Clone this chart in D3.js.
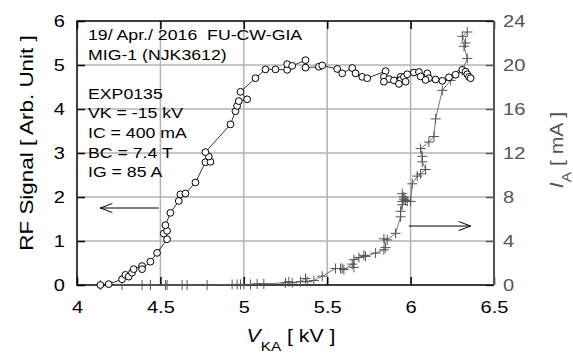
<!DOCTYPE html>
<html>
<head>
<meta charset="utf-8">
<script src="https://cdn.jsdelivr.net/npm/d3@7"></script>
<style>
  body { margin: 0; background: #fff; }
  svg { font-family: "Liberation Sans", Arial, sans-serif; }
</style>
</head>
<body>
<div id="display"></div>
<script>
// RF signal points [V_KA (kV), RF (arb.)]
const rfVka = [4.14, 4.19, 4.27, 4.29, 4.31, 4.33, 4.34, 4.39, 4.39, 4.44, 4.48, 4.54, 4.52, 4.54, 4.53, 4.56,
  4.61, 4.62, 4.65, 4.71, 4.77, 4.80, 4.79, 4.77, 4.92, 4.95, 4.96, 4.97, 5.02, 4.98, 5.07, 5.13, 5.19,
  5.26, 5.26, 5.29, 5.37, 5.37, 5.45, 5.47, 5.56, 5.59, 5.65, 5.67, 5.71, 5.74, 5.85, 5.84, 5.87, 5.90,
  5.84, 5.94, 5.94, 5.93, 5.96, 5.97, 5.98, 6.02, 6.05, 6.06, 6.10, 6.11, 6.09, 6.15, 6.19, 6.23, 6.27,
  6.31, 6.33, 6.34, 6.35, 6.36]
const rfVal = [0.0, 0.02, 0.13, 0.23, 0.19, 0.28, 0.36, 0.43, 0.36, 0.53, 0.73, 1.04, 1.17, 1.23, 1.36, 1.64,
  1.91, 2.06, 2.08, 2.33, 2.79, 2.80, 2.92, 3.02, 3.65, 3.95, 4.07, 4.18, 4.22, 4.39, 4.70, 4.90, 4.90,
  4.89, 5.02, 4.98, 5.11, 4.94, 4.96, 4.99, 4.91, 4.81, 4.93, 4.81, 4.73, 4.70, 4.86, 4.73, 4.68, 4.65,
  4.62, 4.73, 4.66, 4.57, 4.73, 4.62, 4.79, 4.83, 4.84, 4.74, 4.81, 4.70, 4.66, 4.67, 4.64, 4.72, 4.78,
  4.89, 4.85, 4.79, 4.73, 4.70]

// Anode current points [V_KA (kV), I_A (mA)]
const iaVka = [4.14, 4.27, 4.39, 4.44, 4.53, 4.54, 4.63, 4.66, 4.78, 4.93, 4.96, 4.98, 5.00, 5.04, 5.08, 5.12,
  5.25, 5.27, 5.29, 5.34, 5.37, 5.38, 5.42, 5.47, 5.55, 5.58, 5.59, 5.60, 5.65, 5.66, 5.66, 5.69, 5.72,
  5.73, 5.79, 5.84, 5.85, 5.84, 5.86, 5.91, 5.94, 5.94, 5.95, 5.96, 5.97, 5.98, 5.95, 5.95, 5.96, 6.00,
  6.01, 6.04, 6.06, 6.09, 6.07, 6.07, 6.06, 6.11, 6.14, 6.15, 6.19, 6.24, 6.31, 6.34, 6.32, 6.33, 6.31, 6.34]
const iaVal = [0, 0, 0, 0, 0, 0, 0, 0, 0, 0.05, 0.05, 0.05, 0.05, 0.05, 0.1, 0.1,
  0.2, 0.3, 0.2, 0.3, 0.6, 0.3, 0.4, 0.8, 1.5, 1.5, 1.5, 1.4, 1.9, 1.6, 2.3, 2.5, 2.7,
  2.6, 2.9, 3.2, 3.4, 4.2, 4.1, 4.7, 6.2, 6.7, 7.3, 7.8, 7.7, 7.6, 7.6, 8.3, 8.0, 7.6,
  9.2, 9.9, 10.1, 10.5, 11.2, 11.7, 12.4, 13.0, 13.5, 15.1, 17.7, 18.6, 19.5, 20.6, 21.7, 22.0, 22.6, 23.0]

const xTicks = [4, 4.5, 5, 5.5, 6, 6.5]
const yTicks = [0, 1, 2, 3, 4, 5, 6]
const y2Ticks = [0, 4, 8, 12, 16, 20, 24]
const notes = ["19/ Apr./ 2016  FU-CW-GIA", "MIG-1 (NJK3612)", "", "EXP0135", "VK = -15 kV", "IC = 400 mA", "BC = 7.4 T", "IG = 85 A"]

function chart(parentNode)
{
  let width = 573
  let height = 353
  let margin = {top: 21, right: 79, bottom: 68, left: 77}
  let x = d3.scaleLinear([4, 6.5], [margin.left, width - margin.right])
  let y = d3.scaleLinear([0, 6], [height - margin.bottom, margin.top])
  let y2 = d3.scaleLinear([0, 24], [height - margin.bottom, margin.top])
  const gray = "#555"
  const wide = 1.18 // the original lettering is a bit wider than Liberation Sans

  const svg = d3.create("svg")
      .attr("width", width)
      .attr("height", height)
      .attr("viewBox", [0, 0, width, height])
  parentNode.appendChild(svg.node())

  // widen plain texts in place
  const stretch = sel => sel.each(function() {
    const L = this.getComputedTextLength()
    if (L > 0) d3.select(this).attr("textLength", L * wide).attr("lengthAdjust", "spacingAndGlyphs")
  })

  // grid
  svg.append("g")
      .attr("stroke", "#b3b3b3")
      .attr("stroke-width", 1.5)
    .call(g => g.selectAll("line.v").data(xTicks.slice(1, -1)).join("line")
      .attr("x1", d => x(d)).attr("x2", d => x(d))
      .attr("y1", y(0)).attr("y2", y(6)))
    .call(g => g.selectAll("line.h").data(yTicks.slice(1, -1)).join("line")
      .attr("y1", d => y(d)).attr("y2", d => y(d))
      .attr("x1", x(4)).attr("x2", x(6.5)))

  const tickStyle = g => {
    g.select(".domain").remove()
    g.selectAll(".tick text").attr("font-size", 17).attr("font-family", "Liberation Sans, Arial, sans-serif")
  }

  // bottom axis, inward ticks
  svg.append("g")
      .attr("transform", `translate(0,${y(0)})`)
      .call(d3.axisBottom(x).tickValues(xTicks).tickFormat(d3.format("")).tickSizeInner(-8).tickSizeOuter(0).tickPadding(16))
      .call(tickStyle)
      .call(g => g.selectAll(".tick line").attr("stroke", "#000").attr("stroke-width", 1.5))
      .call(g => g.selectAll(".tick text").attr("fill", "#000"))
  // top ticks
  svg.append("g")
      .attr("transform", `translate(0,${y(6)})`)
      .call(d3.axisTop(x).tickValues(xTicks).tickFormat("").tickSizeInner(-8).tickSizeOuter(0))
      .call(tickStyle)
      .call(g => g.selectAll(".tick line").attr("stroke", "#000").attr("stroke-width", 1.5))

  // left axis
  svg.append("g")
      .attr("transform", `translate(${x(4)},0)`)
      .call(d3.axisLeft(y).tickValues(yTicks).tickFormat(d3.format("d")).tickSizeInner(-8).tickSizeOuter(0).tickPadding(12))
      .call(tickStyle)
      .call(g => g.selectAll(".tick line").attr("stroke", "#000").attr("stroke-width", 1.5))
      .call(g => g.selectAll(".tick text").attr("fill", "#000"))

  // right axis
  svg.append("g")
      .attr("transform", `translate(${x(6.5)},0)`)
      .call(d3.axisRight(y2).tickValues(y2Ticks).tickSizeInner(-8).tickSizeOuter(0).tickPadding(9))
      .call(tickStyle)
      .call(g => g.selectAll(".tick line").attr("stroke", gray).attr("stroke-width", 1.5))
      .call(g => g.selectAll(".tick text").attr("fill", gray))

  // frame
  svg.append("path")
      .attr("fill", "none").attr("stroke", "#000").attr("stroke-width", 1.5)
      .attr("d", `M${x(6.5)},${y(6)}H${x(4)}V${y(0)}H${x(6.5)}`)
  svg.append("line")
      .attr("stroke", gray).attr("stroke-width", 2)
      .attr("x1", x(6.5)).attr("x2", x(6.5)).attr("y1", y(0)).attr("y2", y(6))

  // I_A series
  const ia = iaVka.map((v, i) => [v, iaVal[i]])
  svg.append("path")
      .datum(ia)
      .attr("fill", "none").attr("stroke", "#666").attr("stroke-width", 0.9)
      .attr("d", d3.line(d => x(d[0]), d => y2(d[1])))
  svg.append("g")
      .attr("stroke", "#555").attr("stroke-width", 1)
    .selectAll("path")
    .data(ia)
    .join("path")
      .attr("d", d => `M${x(d[0]) - 5},${y2(d[1])}h10M${x(d[0])},${y2(d[1]) - 5}v10`)

  // RF series
  const rf = rfVka.map((v, i) => [v, rfVal[i]])
  svg.append("path")
      .datum(rf)
      .attr("fill", "none").attr("stroke", "#000").attr("stroke-width", 0.8)
      .attr("d", d3.line(d => x(d[0]), d => y(d[1])))
  svg.append("g")
      .attr("fill", "#fff").attr("stroke", "#000").attr("stroke-width", 1)
    .selectAll("circle")
    .data(rf)
    .join("circle")
      .attr("cx", d => x(d[0]))
      .attr("cy", d => y(d[1]))
      .attr("r", 3.4)

  // notes
  svg.append("g")
      .attr("font-size", 15)
      .attr("class", "notes")
    .selectAll("text")
    .data(notes)
    .join("text")
      .attr("x", x(4) + 11)
      .attr("y", (d, i) => 40 + i * 19.6)
      .style("white-space", "pre")
      .text(d => d)

  // arrows
  const arrow = (x0, x1, yy, color) => {
    const dir = Math.sign(x1 - x0)
    svg.append("path")
        .attr("fill", "none").attr("stroke", color).attr("stroke-width", 1)
        .attr("d", `M${x0},${yy}H${x1}M${x1 - dir * 12},${yy - 4.5}L${x1},${yy}L${x1 - dir * 12},${yy + 4.5}`)
  }
  arrow(x(4.49), x(4.14), y(1.75), "#000")
  arrow(x(5.99), x(6.36), y2(5.36), "#000")

  svg.selectAll(".tick text, .notes text").call(stretch)

  // axis titles
  svg.append("text")
      .attr("transform", `translate(33,143) rotate(-90) scale(${wide},1)`)
      .attr("text-anchor", "middle")
      .attr("font-size", 19)
      .text("RF Signal [ Arb. Unit ]")

  const xt = svg.append("text")
      .attr("transform", `translate(291,342) scale(${wide},1)`)
      .attr("text-anchor", "middle")
      .attr("font-size", 18)
  xt.append("tspan").attr("font-style", "italic").text("V")
  xt.append("tspan").attr("font-size", 13).attr("dy", 9).text("KA")
  xt.append("tspan").attr("dy", -9).text(" [ kV ]")

  const yt = svg.append("text")
      .attr("transform", `translate(563,150) rotate(-90) scale(${wide},1)`)
      .attr("text-anchor", "middle")
      .attr("font-size", 18)
      .attr("fill", gray)
  yt.append("tspan").attr("font-style", "italic").text("I")
  yt.append("tspan").attr("font-size", 13).attr("dy", 8).text("A")
  yt.append("tspan").attr("dy", -8).text(" [ mA ]")
}

document.addEventListener("DOMContentLoaded", () => {
  chart(document.getElementById("display"))
})
</script>
</body>
</html>
